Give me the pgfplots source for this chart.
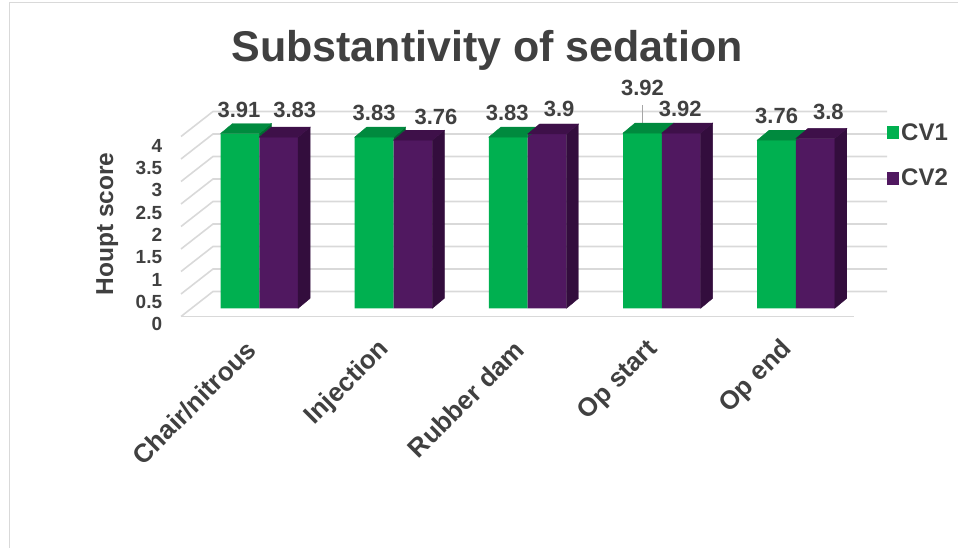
\documentclass[border=0pt]{standalone}
\usepackage{pgfplots}
\usepackage{pgfplotstable}
\pgfplotsset{compat=1.18}
\usepackage{fontspec}
\setmainfont{Liberation Sans}
\definecolor{txt}{HTML}{404040}
\definecolor{gridc}{HTML}{D9D9D9}
\definecolor{gfront}{HTML}{00B050}
\definecolor{gtop}{HTML}{008A3E}
\definecolor{gside}{HTML}{006B30}
\definecolor{pfront}{HTML}{501860}
\definecolor{ptop}{HTML}{3E1049}
\definecolor{pside}{HTML}{330D3D}

% dx, dy: label offsets (pt) from the category centre / bar top
% d, e: how far (pt) CV1 is above / below CV2 (for hidden faces of the 3D look)
\pgfplotstableread{
x y dx dy ey d e
0 3.91 -20.4 24 0 3.58 0
1 3.83 -19.4 24 0 3.13 0
2 3.83 -20.4 24 0 0 3.13
3 3.92 -19.4 45 0.62 0 0
4 3.76 -19.4 24 0 0 1.79
}\cvone
\pgfplotstableread{
x y dx dy
0 3.83 35.4 27
1 3.76 42.4 23
2 3.90 31.4 25
3 3.92 18.4 24
4 3.80 32.4 26
}\cvtwo

% 3D faces drawn as marks at the bar tops, relative to the category centre
\pgfdeclareplotmark{gbox}{%
  \pgfmathsetmacro\dd{10-\dval}%
  \pgfmathsetmacro\ex{1.2*\eval}%
  \fill[gside] (0pt,0pt) -- (12pt,10pt) -- (12pt,\dd pt) -- (0pt,-\dval pt) -- cycle;
  \fill[gtop] (-38.8pt,0pt) -- (0pt,0pt) -- (0pt,\eval pt) -- (\ex pt,\eval pt) -- (12pt,10pt) -- (-26.8pt,10pt) -- cycle;
}
\pgfdeclareplotmark{pbox}{%
  \pgfmathsetmacro\hh{\yval*44.7}%
  \pgfmathsetmacro\hb{10-\hh}%
  \fill[pside] (38.8pt,0pt) -- (50.8pt,10pt) -- (50.8pt,\hb pt) -- (38.8pt,-\hh pt) -- cycle;
  \fill[ptop] (0pt,0pt) -- (38.8pt,0pt) -- (50.8pt,10pt) -- (12pt,10pt) -- cycle;
}

\begin{document}
\begin{tikzpicture}
\useasboundingbox (0pt,0pt) rectangle (958pt,548pt);
% outer frame (partially visible)
\draw[gridc, line width=1pt] (9pt,0pt) -- (9pt,545pt) -- (958pt,545pt);
% back wall gridlines and left wall
\foreach \k in {0,...,8}{
  \pgfmathsetmacro\Y{256.5+22.5*\k}
  \draw[gridc, line width=1.6pt] (181pt,\Y pt-25pt) -- (213pt,\Y pt) -- (887pt,\Y pt);
}
\draw[gridc, line width=1.6pt] (181pt,231.5pt) -- (854pt,231.5pt);
% title and y label
\node[anchor=base, text=txt, font=\fontsize{43}{46}\selectfont\bfseries] at (487pt,486pt) {Substantivity of sedation};
\node[anchor=base, rotate=90, text=txt, font=\fontsize{24.5}{26}\selectfont\bfseries] at (113pt,324pt) {Houpt score};

\begin{axis}[
  at={(192.3pt,239.7pt)}, anchor=south west,
  scale only axis, width=670.75pt, height=201.15pt,
  xmin=-0.5, xmax=4.5, ymin=0, ymax=4.5,
  clip=false,
  axis line style={draw=none}, tick style={draw=none},
  xtick={0,...,4},
  xticklabels={Chair/nitrous,Injection,Rubber dam,Op start,Op end},
  ytick={0,0.5,...,4},
  /pgf/number format/assume math mode=true,
  yticklabel style={font=\fontsize{19}{21}\selectfont\bfseries, text=txt, anchor=east, inner sep=0pt, xshift=-30pt, yshift=-16pt},
  xticklabel style={font=\fontsize{26}{28}\selectfont\bfseries, text=txt, inner sep=0pt, xshift=-8pt, yshift=-37pt, rotate=45, anchor=east},
  legend cell align=left,
  legend image code/.code={\fill[#1] (0pt,-6.5pt) rectangle (12pt,6.5pt);},
  legend style={draw=none, fill=none, at={(1.0357,0.76)}, anchor=west, inner sep=0pt,
    row sep=23pt, font=\fontsize{24}{26}\selectfont\bfseries, text=txt,
    /tikz/every even column/.append style={column sep=6pt}},
]
\addplot[ybar, bar width=38.8pt, bar shift=-19.4pt, fill=gfront, draw=none,
  nodes near coords,
  visualization depends on={\thisrow{dx}\as\dxv},
  visualization depends on={\thisrow{dy}\as\dyv},
  every node near coord/.append style={anchor=center, xshift=\dxv pt, yshift=\dyv pt,
    font=\fontsize{22}{24}\selectfont\bfseries, text=txt},
  error bars/.cd, y dir=plus, y explicit, error mark=none,
  error bar style={line width=1pt, draw=black!35, xshift=-19.4pt}
] table[x=x, y=y, y error=ey] {\cvone};
\addlegendentry{CV1}
\addplot[forget plot, scatter, only marks, mark=gbox,
  scatter/@pre marker code/.code={}, scatter/@post marker code/.code={},
  visualization depends on={\thisrow{d}\as\dval},
  visualization depends on={\thisrow{e}\as\eval}]
  table[x=x, y=y] {\cvone};
\addplot[ybar, bar width=38.8pt, bar shift=19.4pt, fill=pfront, draw=none,
  nodes near coords,
  visualization depends on={\thisrow{dx}\as\dxv},
  visualization depends on={\thisrow{dy}\as\dyv},
  every node near coord/.append style={anchor=center, xshift=\dxv pt, yshift=\dyv pt,
    font=\fontsize{22}{24}\selectfont\bfseries, text=txt}
] table[x=x, y=y] {\cvtwo};
\addlegendentry{CV2}
\addplot[forget plot, scatter, only marks, mark=pbox,
  scatter/@pre marker code/.code={}, scatter/@post marker code/.code={},
  visualization depends on={\thisrow{y}\as\yval}]
  table[x=x, y=y] {\cvtwo};
\end{axis}
\end{tikzpicture}
\end{document}
